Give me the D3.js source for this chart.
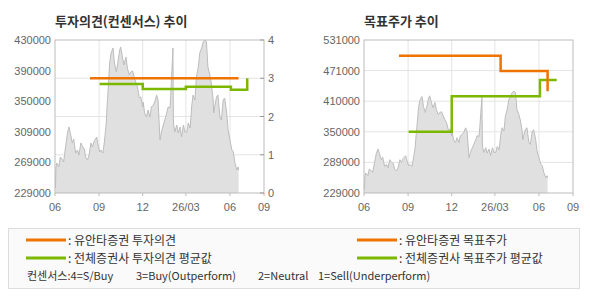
<!DOCTYPE html>
<html>
<head>
<meta charset="utf-8">
<script src="https://cdn.jsdelivr.net/npm/d3@7"></script>
<style>
body{margin:0;background:#fff;}
svg{display:block;}
</style>
</head>
<body>
<div id="my_dataviz"></div>
<script>
// stock price (daily-ish closes)
let priceDates = ["2025-06-02","2025-06-03","2025-06-05","2025-06-09","2025-06-12","2025-06-17","2025-06-19","2025-06-23","2025-06-27","2025-06-30",
"2025-07-03","2025-07-07","2025-07-10","2025-07-14","2025-07-18","2025-07-21","2025-07-25","2025-07-28","2025-08-01","2025-08-04",
"2025-08-08","2025-08-11","2025-08-15","2025-08-18","2025-08-22","2025-08-27","2025-08-29","2025-09-02","2025-09-05","2025-09-09",
"2025-09-12","2025-09-16","2025-09-18","2025-09-19","2025-09-23","2025-09-26","2025-09-30","2025-10-03","2025-10-07","2025-10-10",
"2025-10-14","2025-10-16","2025-10-20","2025-10-23","2025-10-27","2025-10-30","2025-11-03","2025-11-06","2025-11-10","2025-11-13",
"2025-11-17","2025-11-20","2025-11-24","2025-11-27","2025-12-01","2025-12-02","2025-12-05","2025-12-09","2025-12-12","2025-12-16",
"2025-12-19","2025-12-23","2025-12-26","2025-12-30","2026-01-02","2026-01-06","2026-01-09","2026-01-13","2026-01-16","2026-01-20",
"2026-01-23","2026-01-27","2026-01-29","2026-02-02","2026-02-03","2026-02-06","2026-02-10","2026-02-13","2026-02-17","2026-02-20",
"2026-02-24","2026-02-27","2026-03-03","2026-03-06","2026-03-10","2026-03-13","2026-03-16","2026-03-20","2026-03-23","2026-03-27",
"2026-03-30","2026-04-03","2026-04-06","2026-04-10","2026-04-13","2026-04-16","2026-04-20","2026-04-23","2026-04-27","2026-04-28",
"2026-04-30","2026-05-04","2026-05-07","2026-05-11","2026-05-14","2026-05-18","2026-05-21","2026-05-25","2026-05-28","2026-06-01",
"2026-06-05","2026-06-08","2026-06-11","2026-06-15","2026-06-18","2026-06-19"];
let prices = [235600,263200,268400,263200,276300,272400,269700,289400,307800,315700,
307800,294700,299900,281500,285500,278900,294700,290700,286800,276300,
272400,278900,294700,289400,297300,302600,294700,282900,285500,281500,
296000,321000,347200,355100,399800,412900,419500,399800,388000,399800,
416900,420800,406300,397200,407700,393200,384000,388000,389300,381400,
373500,368300,353800,355100,342000,348500,334100,328800,338000,328800,
342000,344600,348500,357700,351200,298600,309100,318300,324900,334100,
342000,340700,364300,419500,321000,309100,318300,307800,315700,302600,
318300,309100,309100,321000,314400,342000,357700,351200,381400,394500,
412900,419500,427400,430000,427400,394500,384000,373500,351200,334100,
342000,355100,357700,328800,324900,351200,353800,335400,311800,298600,
285500,282900,269700,259200,263200,259200];

// investment opinion (4=S/Buy ... 1=Sell)
let yuantaOpinionDates = ["2025-08-13","2026-06-19"];
let yuantaOpinion = [3,3];
let avgOpinionDates = ["2025-09-02","2025-12-01","2026-03-01","2026-06-03","2026-07-07"];
let avgOpinion = [2.85,2.72,2.78,2.70,3.0];

// target price
let yuantaTargetDates = ["2025-08-13","2026-03-13","2026-06-19"];
let yuantaTarget = [500000,470000,430000];
let avgTargetDates = ["2025-09-02","2025-12-01","2026-06-03","2026-07-08"];
let avgTarget = [350000,420000,452000,452000];

// axes
let xTickDates = ["2025-06-01","2025-09-01","2025-12-01","2026-03-01","2026-06-01","2026-08-11"];
let xTickLabels = ["06","09","12","26/03","06","09"];
let opinionTickLabels = ["229000","269000","309000","350000","390000","430000"];
let targetTickLabels = ["229000","289000","350000","410000","471000","531000"];
let consensusTicks = [0,1,2,3,4];

let parse = d3.timeParse("%Y-%m-%d");
let orange = "#f07300", green = "#7cb800";
let plotTop = 40, plotBottom = 193;

let svg = d3.select("#my_dataviz").append("svg")
  .attr("width", 590).attr("height", 300);

let priceData = priceDates.map((d,i) => ({date: parse(d), v: prices[i]}));
function pairs(ds, vs){ return ds.map((d,i) => ({date: parse(d), v: vs[i]})); }

function drawPanel(left, right, title, yDomain, yLabels, gridFromRight){
  let g = svg.append("g");
  let x = d3.scaleTime()
    .domain([parse(xTickDates[0]), parse(xTickDates[xTickDates.length-1])])
    .range([left, right]);
  let y = d3.scaleLinear().domain(yDomain).range([plotBottom, plotTop]);
  let yTicks = yLabels.map((l,i) => yDomain[0] + (yDomain[1]-yDomain[0])*i/(yLabels.length-1));
  let y2 = d3.scaleLinear().domain([0,4]).range([plotBottom, plotTop]);

  g.append("text")
    .attr("x", left).attr("y", 26)
    .style("font", "bold 13px 'Noto Sans CJK KR'").attr("fill", "#333")
    .text(title);

  // gridlines
  let gy = gridFromRight ? consensusTicks.slice(1,4).map(y2) : yTicks.slice(1,-1).map(y);
  g.selectAll(".hg").data(gy).enter().append("line")
    .attr("x1", left).attr("x2", right).attr("y1", d => d).attr("y2", d => d)
    .attr("stroke", "#e4e4e4");
  g.selectAll(".vg").data(xTickDates.slice(1,-1)).enter().append("line")
    .attr("x1", d => x(parse(d))).attr("x2", d => x(parse(d)))
    .attr("y1", plotTop).attr("y2", plotBottom)
    .attr("stroke", "#e4e4e4");

  // price area
  g.append("path").datum(priceData)
    .attr("fill", "#e0e0e0")
    .attr("d", d3.area().x(d => x(d.date)).y0(y(yDomain[0])).y1(d => y(d.v)));
  g.append("path").datum(priceData)
    .attr("fill", "none").attr("stroke", "#bdbdbd").attr("stroke-width", 1)
    .attr("d", d3.line().x(d => x(d.date)).y(d => y(d.v)));

  // frame
  g.append("rect")
    .attr("x", left).attr("y", plotTop).attr("width", right-left).attr("height", plotBottom-plotTop)
    .attr("fill", "none").attr("stroke", "#bbb");

  // left axis
  g.selectAll(".yl").data(yTicks).enter().append("text")
    .attr("x", left-4).attr("y", d => y(d)+4)
    .attr("text-anchor", "end")
    .style("font", "11px 'Liberation Sans'").attr("fill", "#666")
    .text((d,i) => yLabels[i]);

  // bottom axis
  g.selectAll(".xt").data(xTickDates).enter().append("line")
    .attr("x1", d => x(parse(d))).attr("x2", d => x(parse(d)))
    .attr("y1", plotBottom).attr("y2", plotBottom+3).attr("stroke", "#bbb");
  g.selectAll(".xl").data(xTickDates).enter().append("text")
    .attr("x", d => x(parse(d))).attr("y", 211)
    .attr("text-anchor", "middle")
    .style("font", "11px 'Liberation Sans'").attr("fill", "#666")
    .text((d,i) => xTickLabels[i]);

  return {g: g, x: x, y: y, y2: y2};
}

function stepLine(p, xs, ys, data, color){
  p.g.append("path").datum(data)
    .attr("fill", "none").attr("stroke", color).attr("stroke-width", 2.5)
    .attr("d", d3.line().curve(d3.curveStepAfter).x(d => xs(d.date)).y(d => ys(d.v)));
}

// 투자의견 panel
let p1 = drawPanel(55, 264, "투자의견(컨센서스) 추이", [229000,430000], opinionTickLabels, true);
p1.g.selectAll(".rt").data(consensusTicks).enter().append("line")
  .attr("x1", 260).attr("x2", 264).attr("y1", d => p1.y2(d)).attr("y2", d => p1.y2(d))
  .attr("stroke", "#999");
p1.g.selectAll(".rl").data(consensusTicks).enter().append("text")
  .attr("x", 268).attr("y", d => p1.y2(d)+4)
  .style("font", "11px 'Liberation Sans'").attr("fill", "#666")
  .text(d => d);
stepLine(p1, p1.x, p1.y2, pairs(avgOpinionDates, avgOpinion), green);
stepLine(p1, p1.x, p1.y2, pairs(yuantaOpinionDates, yuantaOpinion), orange);

// 목표주가 panel
let p2 = drawPanel(364, 573, "목표주가 추이", [229000,531000], targetTickLabels, false);
stepLine(p2, p2.x, p2.y, pairs(avgTargetDates, avgTarget), green);
stepLine(p2, p2.x, p2.y, pairs(yuantaTargetDates, yuantaTarget), orange);

// legend
let lg = svg.append("g");
lg.append("rect").attr("x", 8.5).attr("y", 228.5).attr("width", 571).attr("height", 60)
  .attr("fill", "#fafafa").attr("stroke", "#ddd");
let legendItems = [
  {x: 26, y: 240, color: orange, label: ": 유안타증권 투자의견"},
  {x: 26, y: 258, color: green, label: ": 전체증권사 투자의견 평균값"},
  {x: 357, y: 240, color: orange, label: ": 유안타증권 목표주가"},
  {x: 357, y: 258, color: green, label: ": 전체증권사 목표주가 평균값"}
];
legendItems.forEach(d => {
  lg.append("line").attr("x1", d.x).attr("x2", d.x+40).attr("y1", d.y).attr("y2", d.y)
    .attr("stroke", d.color).attr("stroke-width", 3);
  lg.append("text").attr("x", d.x+42).attr("y", d.y+5)
    .style("font", "12px 'Noto Sans CJK KR'").attr("fill", "#333")
    .text(d.label);
});
let consensusNotes = [{x: 27, t: "컨센서스:4=S/Buy"}, {x: 136, t: "3=Buy(Outperform)"}, {x: 258, t: "2=Neutral"}, {x: 318, t: "1=Sell(Underperform)"}];
lg.selectAll(".cn").data(consensusNotes).enter().append("text")
  .attr("x", d => d.x).attr("y", 280)
  .style("font", "11px 'Noto Sans CJK KR'").attr("fill", "#333")
  .text(d => d.t);
</script>
</body>
</html>
